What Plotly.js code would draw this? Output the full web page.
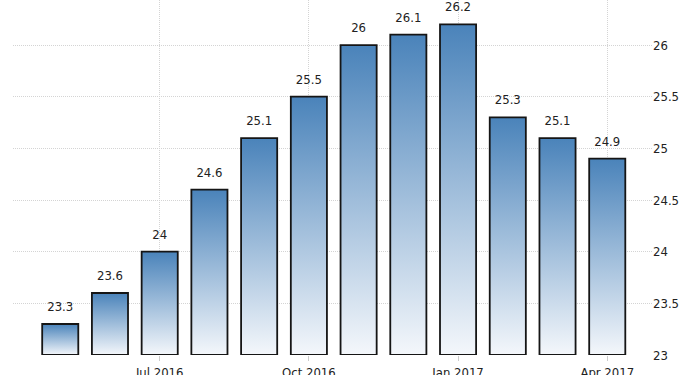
<!DOCTYPE html>
<html>
<head>
<meta charset="utf-8">
<script src="https://cdn.plot.ly/plotly-3.0.1.min.js"></script>
<style>
html,body{margin:0;padding:0;background:#fff;}
#chart{width:700px;height:375px;}
</style>
</head>
<body>
<div id="chart"></div>
<script>
// Data
var months = ["May 2016","Jun 2016","Jul 2016","Aug 2016","Sep 2016","Oct 2016","Nov 2016","Dec 2016","Jan 2017","Feb 2017","Mar 2017","Apr 2017"];
var values = [23.3, 23.6, 24, 24.6, 25.1, 25.5, 26, 26.1, 26.2, 25.3, 25.1, 24.9];
var tickLabels = ["Jul 2016","Oct 2016","Jan 2017","Apr 2017"];
var tickMonths = ["Jul 2016","Oct 2016","Jan 2017","Apr 2017"];
var yTicks = [23, 23.5, 24, 24.5, 25, 25.5, 26];

var base = 23;
var half = 0.363;
var labelFont = '"DejaVu Sans Condensed", "Liberation Sans", Arial, sans-serif';

var traces = [];
values.forEach(function(v, i){
  traces.push({
    type: 'scatter',
    mode: 'lines',
    x: [i-half, i-half, i+half, i+half, i-half],
    y: [base, v, v, base, base],
    fill: 'toself',
    fillgradient: {type: 'vertical', colorscale: [[0, '#f4f7fb'], [1, '#4a83ba']]},
    line: {color: '#151515', width: 1.8},
    hoverinfo: 'skip',
    showlegend: false
  });
});
traces.push({
  type: 'scatter',
  mode: 'markers+text',
  x: values.map(function(v,i){return i;}),
  y: values,
  text: values.map(String),
  textposition: 'top center',
  cliponaxis: false,
  marker: {size: 14, color: 'rgba(0,0,0,0)'},
  textfont: {family: labelFont, size: 13, color: '#222'},
  hovertext: months,
  showlegend: false
});

var layout = {
  width: 700, height: 375,
  margin: {l: 13, r: 48, t: 0, b: 20},
  paper_bgcolor: '#fff', plot_bgcolor: '#fff',
  showlegend: false,
  xaxis: {
    range: [-0.95, 11.9],
    tickvals: tickMonths.map(function(m){return months.indexOf(m);}),
    ticktext: tickLabels,
    showgrid: true, gridcolor: '#d4d4d4', griddash: '1px,1px', gridwidth: 1,
    zeroline: false, showline: false,
    ticks: 'outside', ticklen: 5, tickcolor: '#ccc',
    tickfont: {family: labelFont, size: 13, color: '#222'}
  },
  yaxis: {
    side: 'right',
    range: [23, 26.436],
    tickvals: yTicks,
    showgrid: true, gridcolor: '#d4d4d4', griddash: '1px,1px', gridwidth: 1,
    zeroline: false, showline: false,
    ticks: '',
    tickfont: {family: labelFont, size: 13, color: '#222'}
  }
};
Plotly.newPlot('chart', traces, layout, {displayModeBar: false, staticPlot: true});
</script>
</body>
</html>
